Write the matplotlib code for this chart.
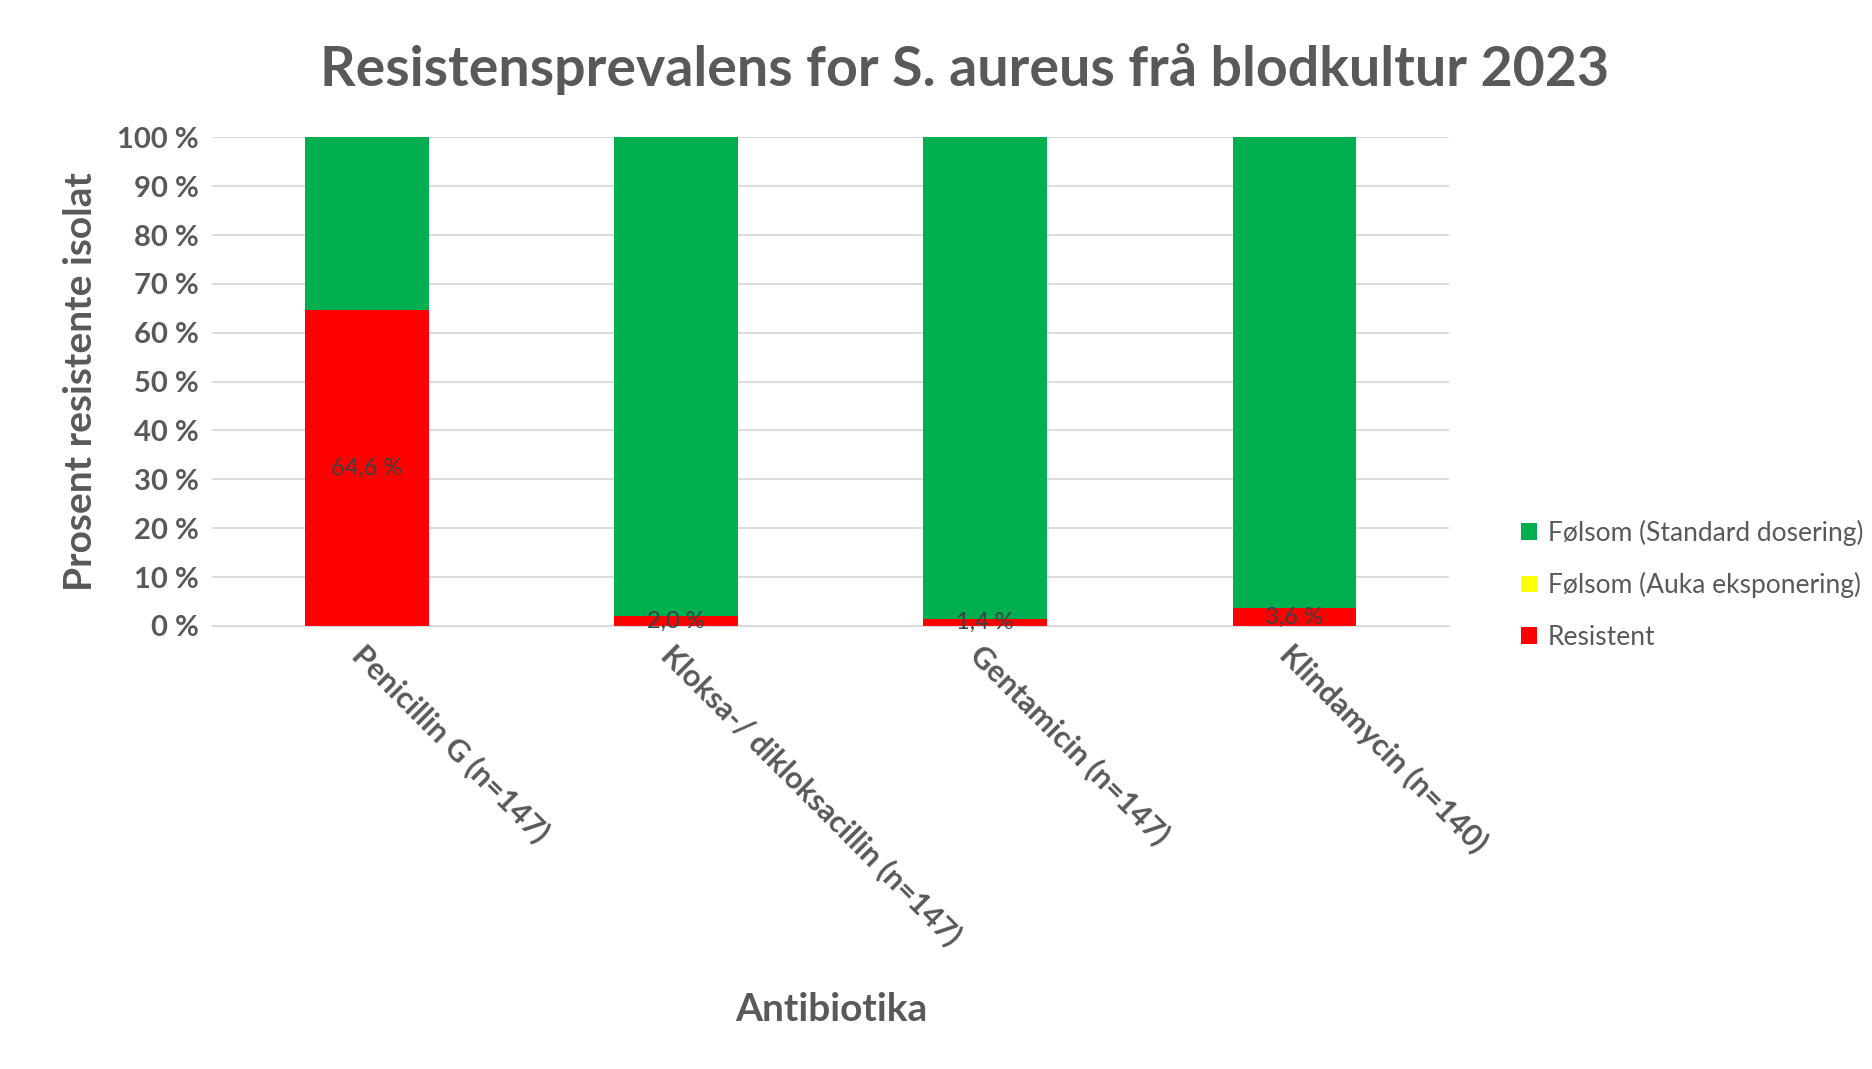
import matplotlib.pyplot as plt
import numpy as np

plt.rcParams["font.family"] = "Lato"

categories = ["Penicillin G (n=147)", "Kloksa-/ dikloksacillin (n=147)",
              "Gentamicin (n=147)", "Klindamycin (n=140)"]
resistent = [64.6, 2.0, 1.4, 3.6]
auka = [0.0, 0.0, 0.0, 0.0]
standard = [100 - r - a for r, a in zip(resistent, auka)]
labels = ["64,6 %", "2,0 %", "1,4 %", "3,6 %"]

grey = "#595959"
fig = plt.figure(figsize=(18.72, 10.69), dpi=100)
ax = fig.add_axes([0.1135, 0.4145, 0.6605, 0.457])
x = np.arange(len(categories))
w = 0.4
ax.bar(x, resistent, w, color="#ff0000", label="Resistent", zorder=2)
ax.bar(x, auka, w, bottom=resistent, color="#ffff00", label="Følsom (Auka eksponering)", zorder=2)
ax.bar(x, standard, w, bottom=np.add(resistent, auka), color="#00b050",
       label="Følsom (Standard dosering)", zorder=2)
for xi, r, t in zip(x, resistent, labels):
    ax.text(xi, r / 2, t, ha="center", va="center", fontsize=17, color="#404040", zorder=3)

ax.set_ylim(0, 100)
ax.set_xlim(-0.5, 3.5)
ax.set_yticks(range(0, 101, 10))
ax.set_yticklabels([f"{v} %" for v in range(0, 101, 10)], fontsize=21, fontweight="bold", color=grey)
ax.set_xticks(x)
ax.set_xticklabels(categories, rotation=-45, ha="left", rotation_mode="anchor",
                   fontsize=22, fontweight="bold", color=grey)
ax.tick_params(length=0, pad=10)
ax.grid(axis="y", color="#d9d9d9", lw=1.3, zorder=0)
for s in ["top", "right", "left"]:
    ax.spines[s].set_visible(False)
ax.spines["bottom"].set_color("#d9d9d9")
ax.set_ylabel("Prosent resistente isolat", fontsize=28, fontweight="bold", color=grey, labelpad=14)
fig.text(0.444, 0.045, "Antibiotika", fontsize=28, fontweight="bold", color=grey, ha="center")
fig.text(0.515, 0.935, "Resistensprevalens for S. aureus frå blodkultur 2023",
         fontsize=40, fontweight="bold", color=grey, ha="center", va="center")

h, l = ax.get_legend_handles_labels()
fig.legend(h[::-1], l[::-1], loc="center left", bbox_to_anchor=(0.8, 0.453), frameon=False,
           fontsize=19, labelcolor=grey, handlelength=0.6, handleheight=0.6,
           handletextpad=0.4, labelspacing=1.0)
fig.savefig("out.png")
